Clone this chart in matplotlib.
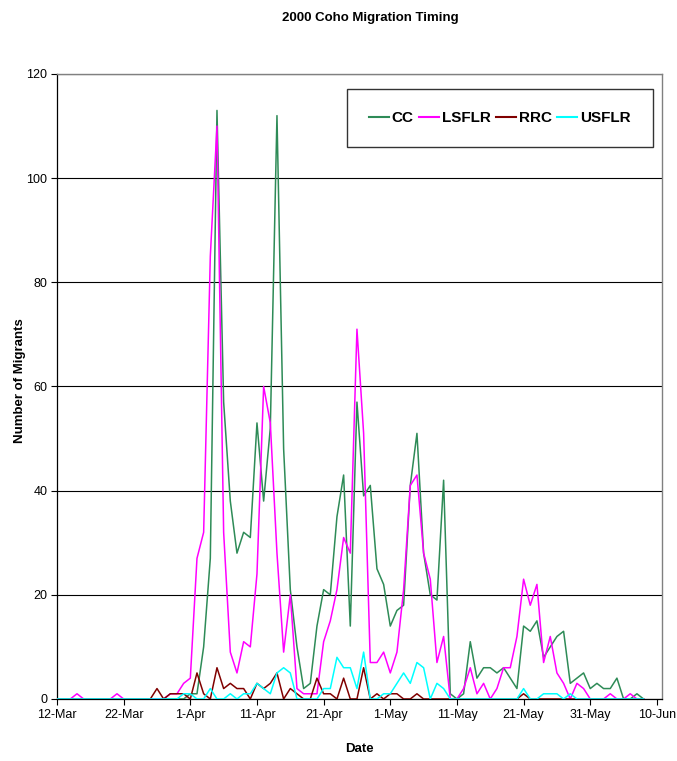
import datetime as dt
import matplotlib
matplotlib.use("Agg")
import matplotlib.pyplot as plt
import matplotlib.dates as mdates

plt.rcParams['font.family'] = ['Liberation Sans', 'DejaVu Sans']

# Daily counts, one value per day starting 12 March 2000
start = dt.date(2000, 3, 12)

cc = [0, 0, 0, 0, 0, 0, 0, 0, 0, 0,
      0, 0, 0, 0, 0, 0, 0, 0, 0, 0,
      1, 1, 10, 27, 113, 57, 38, 28, 32, 31,
      53, 38, 52, 112, 48, 21, 10, 2, 3, 14,
      21, 20, 35, 43, 14, 57, 39, 41, 25, 22,
      14, 17, 18, 41, 51, 28, 20, 19, 42, 1,
      0, 1, 11, 4, 6, 6, 5, 6, 4, 2,
      14, 13, 15, 8, 10, 12, 13, 3, 4, 5,
      2, 3, 2, 2, 4, 0, 0, 1, 0]

lsflr = [0, 0, 0, 1, 0, 0, 0, 0, 0, 1,
         0, 0, 0, 0, 0, 0, 0, 1, 1, 3,
         4, 27, 32, 85, 110, 32, 9, 5, 11, 10,
         24, 60, 53, 28, 9, 20, 2, 1, 1, 1,
         11, 15, 21, 31, 28, 71, 51, 7, 7, 9,
         5, 9, 21, 41, 43, 28, 23, 7, 12, 0,
         0, 2, 6, 1, 3, 0, 2, 6, 6, 12,
         23, 18, 22, 7, 12, 5, 3, 0, 3, 2,
         0, 0, 0, 1, 0, 0, 1, 0, 0]

rrc = [0, 0, 0, 0, 0, 0, 0, 0, 0, 0,
       0, 0, 0, 0, 0, 2, 0, 1, 1, 1,
       0, 5, 1, 0, 6, 2, 3, 2, 2, 0,
       3, 2, 3, 5, 0, 2, 1, 0, 0, 4,
       1, 1, 0, 4, 0, 0, 6, 0, 1, 0,
       1, 1, 0, 0, 1, 0, 0, 0, 0, 0,
       0, 0, 0, 0, 0, 0, 0, 0, 0, 0,
       1, 0, 0, 0, 0, 0, 0, 0, 0, 0,
       0, 0, 0, 0, 0, 0, 0, 0, 0]

usflr = [0, 0, 0, 0, 0, 0, 0, 0, 0, 0,
         0, 0, 0, 0, 0, 0, 0, 0, 0, 1,
         1, 0, 0, 2, 0, 0, 1, 0, 1, 1,
         3, 2, 1, 5, 6, 5, 0, 0, 0, 0,
         2, 2, 8, 6, 6, 2, 9, 0, 0, 1,
         1, 3, 5, 3, 7, 6, 0, 3, 2, 0,
         0, 0, 0, 0, 0, 0, 0, 0, 0, 0,
         2, 0, 0, 1, 1, 1, 0, 1, 0, 0,
         0, 0, 0, 0, 0, 0, 0, 0, 0]

series_names = ["CC", "LSFLR", "RRC", "USFLR"]
series_colors = ["#2E8B57", "#FF00FF", "#800000", "#00FFFF"]

tick_labels = ["12-Mar", "22-Mar", "1-Apr", "11-Apr", "21-Apr",
               "1-May", "11-May", "21-May", "31-May", "10-Jun"]
y_ticks = [0, 20, 40, 60, 80, 100, 120]

dates = [start + dt.timedelta(days=i) for i in range(len(cc))]
tick_dates = [start + dt.timedelta(days=10 * i) for i in range(len(tick_labels))]

fig = plt.figure(figsize=(6.77, 7.61), dpi=100)
ax = fig.add_axes([0.0842, 0.0815, 0.894, 0.8213])

for vals, name, col in zip([cc, lsflr, rrc, usflr], series_names, series_colors):
    ax.plot(dates, vals, color=col, lw=1.1, label=name, zorder=3)

x0 = mdates.date2num(start)
ax.set_xlim(x0, x0 + 90.8)
ax.set_ylim(0, 120)
ax.set_xticks([mdates.date2num(d) for d in tick_dates])
ax.set_xticklabels(tick_labels, fontsize=9)
ax.set_yticks(y_ticks)
ax.set_yticklabels([str(v) for v in y_ticks], fontsize=9)
ax.tick_params(axis='both', direction='out', length=4, width=0.8, color='black', pad=3)

ax.set_axisbelow(True)
ax.yaxis.grid(True, color='black', lw=0.8)
ax.xaxis.grid(False)
for side in ['top', 'right']:
    ax.spines[side].set_color('#808080')
    ax.spines[side].set_linewidth(1.0)
for side in ['left', 'bottom']:
    ax.spines[side].set_color('black')
    ax.spines[side].set_linewidth(0.9)

ax.set_xlabel("Date", fontsize=9.5, fontweight='bold', labelpad=16)
fig.text(0.029, 0.5, "Number of Migrants", fontsize=9.5, fontweight='bold',
         rotation=90, ha='center', va='center')
fig.text(0.547, 0.977, "2000 Coho Migration Timing", fontsize=9.5,
         fontweight='bold', ha='center', va='center')

leg = ax.legend(loc='upper right', bbox_to_anchor=(0.985, 0.976),
                ncol=4, frameon=True, fancybox=False,
                prop={'size': 11, 'weight': 'bold'}, handlelength=1.3,
                handletextpad=0.2, columnspacing=0.35, borderpad=1.45,
                borderaxespad=0)
leg.get_frame().set_edgecolor('black')
leg.get_frame().set_linewidth(1.0)
for h in leg.get_lines():
    h.set_linewidth(1.5)

fig.savefig("out.png", dpi=100)
